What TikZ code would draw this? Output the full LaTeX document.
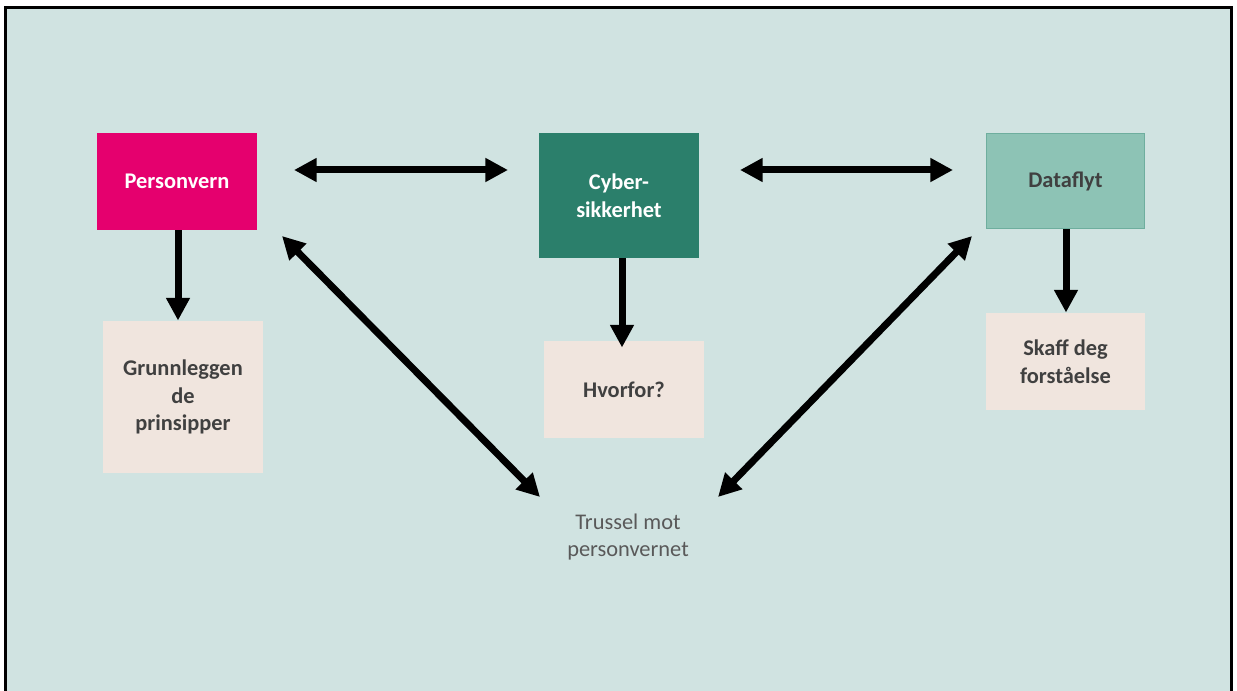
\documentclass[tikz,border=0pt]{standalone}
\usepackage{fontspec}
\setmainfont{Carlito}
\usetikzlibrary{arrows.meta}

\definecolor{slidebg}{RGB}{208,227,225}
\definecolor{pvpink}{RGB}{229,0,110}
\definecolor{cybgreen}{RGB}{43,127,107}
\definecolor{dfgreen}{RGB}{141,195,181}
\definecolor{dfedge}{RGB}{110,174,158}
\definecolor{sandbox}{RGB}{240,229,222}
\definecolor{darktext}{RGB}{64,64,64}
\definecolor{softtext}{RGB}{89,89,89}

\tikzset{every picture/.style={line width=0.75pt}}
\tikzset{
  topic/.style={inner sep=0pt, minimum width=120pt, align=center,
    font=\fontsize{16.8}{20.6}\selectfont\bfseries},
  note/.style={topic, fill=sandbox, text=darktext},
  bigarrow/.style={line width=5.25pt, -{Triangle[length=17pt,width=17pt]}},
  dblarrow/.style={line width=5.25pt, {Triangle[length=17pt,width=17pt]}-{Triangle[length=17pt,width=17pt]}}
}

\begin{document}
\begin{tikzpicture}[x=0.75pt,y=0.75pt,yscale=-1,xscale=1]
    \useasboundingbox (0,0) rectangle (1237,691);
    \fill [white] (0,0) rectangle (1237,691);

    %Slide frame
    \draw [line width=2.25pt, fill=slidebg] (5.5,7.5) rectangle (1231.5,700);

    % Top row
    \node [topic, fill=pvpink, text=white, minimum height=72.75pt] (pv) at (177,181.5) {Personvern};
    \node [topic, fill=cybgreen, text=white, minimum height=93.75pt] (cyb) at (619,195.5) {Cyber-\\sikkerhet};
    \node [topic, fill=dfgreen, draw=dfedge, line width=0.75pt, text=darktext, minimum width=118.5pt, minimum height=71.25pt] (df) at (1065.5,181.5) {Dataflyt};

    % Lower row
    \node [note, minimum height=114pt] (grunn) at (183,397) {Grunnleggen\\de\\prinsipper};
    \node [note, minimum height=72.75pt] (hvorfor) at (624,389.5) {Hvorfor?};
    \node [note, minimum width=119.25pt, minimum height=72.75pt] (skaff) at (1065.5,361.5) {Skaff deg\\forståelse};

    % Text Node
    \node [align=center, text=softtext, font=\fontsize{16.8}{20.6}\selectfont] (trussel) at (628,537) {Trussel mot\\personvernet};

    % arrow ends
    \coordinate (h1a) at (294,170);
    \coordinate (h1b) at (508,170);
    \coordinate (h2a) at (740,170);
    \coordinate (h2b) at (953,170);
    \coordinate (d1a) at (282,236);
    \coordinate (d1b) at (540,497);
    \coordinate (d2a) at (972,236);
    \coordinate (d2b) at (718,497);

    %Straight Lines
    \draw [dblarrow] (h1a) -- (h1b);
    \draw [dblarrow] (h2a) -- (h2b);
    \draw [dblarrow] (d1a) -- (d1b);
    \draw [dblarrow] (d2a) -- (d2b);
    \draw [bigarrow] (pv.south -| 178,0) -- (grunn.north -| 178,0);
    \draw [bigarrow] (cyb.south -| 622,0) -- ([yshift=5.25pt]hvorfor.north -| 622,0);
    \draw [bigarrow] (df.south -| 1066,0) -- (skaff.north -| 1066,0);

\end{tikzpicture}
\end{document}
